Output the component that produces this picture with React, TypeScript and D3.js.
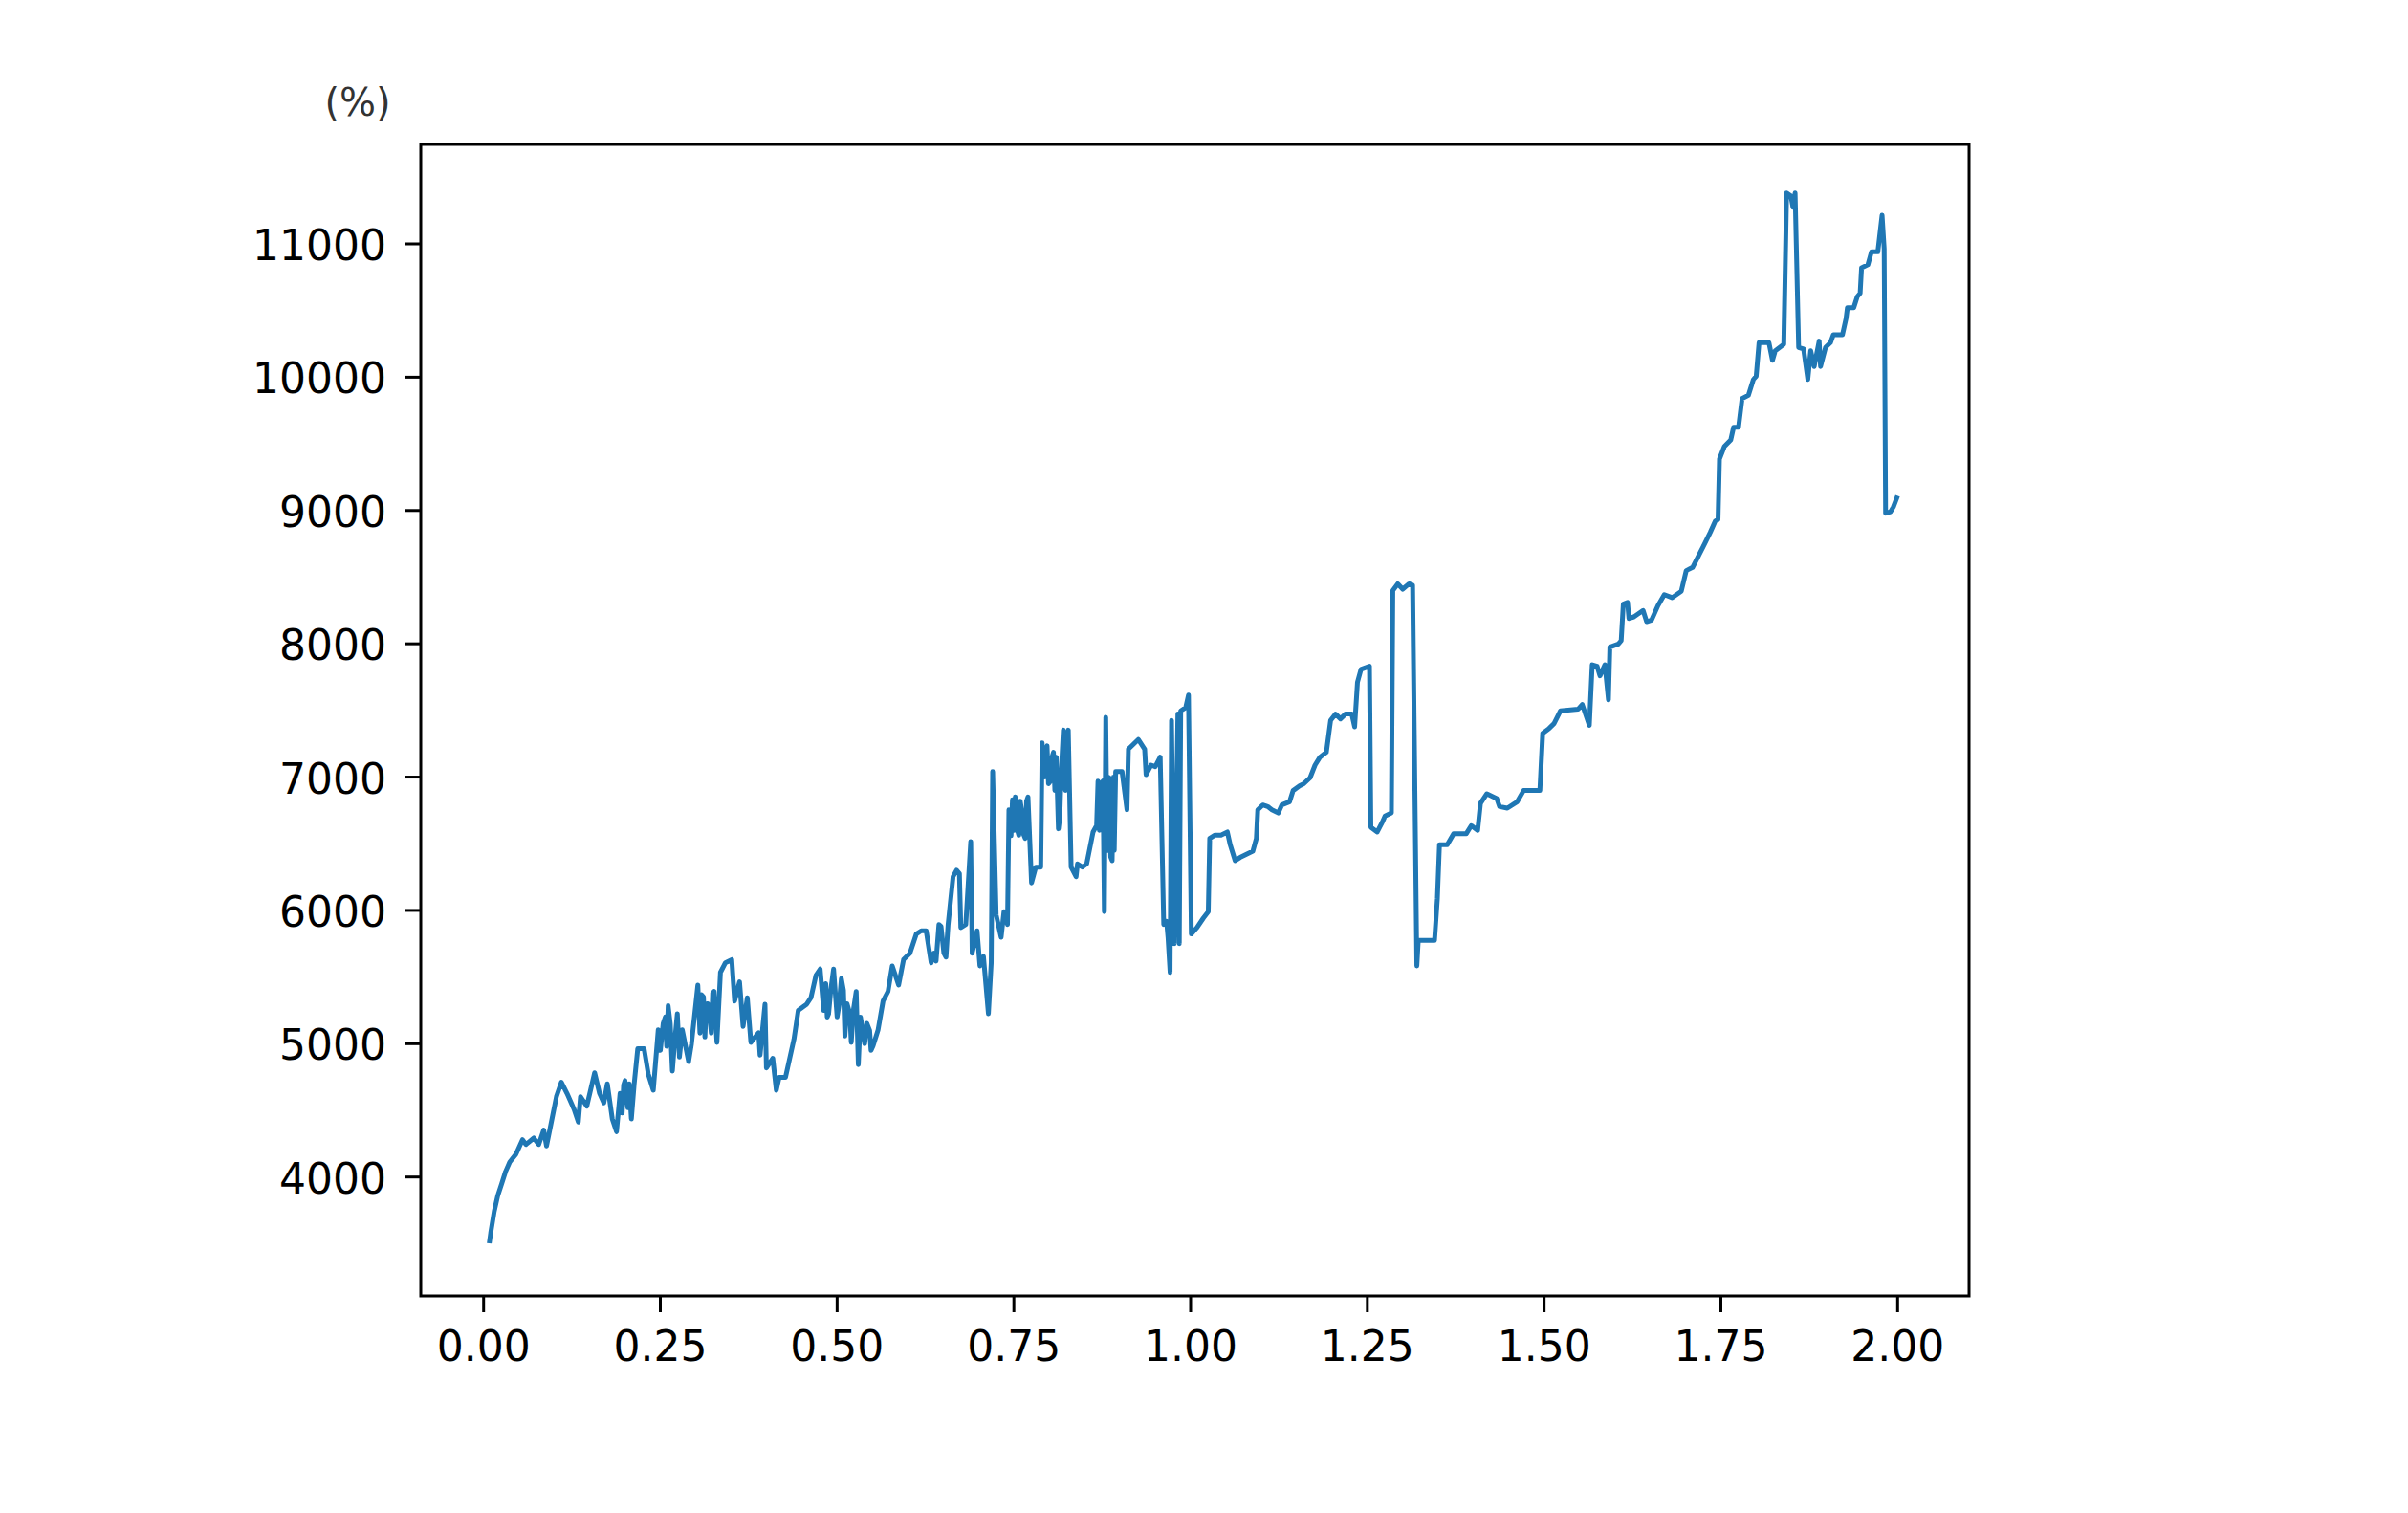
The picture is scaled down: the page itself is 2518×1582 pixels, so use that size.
import React from "react";
import * as d3 from "d3";

// x values (years) and series values (%)
const xVals: number[] = [
  0.008, 0.010, 0.015, 0.020, 0.026, 0.031, 0.037, 0.046, 0.055, 0.060, 0.071, 0.078, 0.085, 0.089, 0.094,
  0.103, 0.110, 0.118, 0.128, 0.134, 0.137, 0.146, 0.157, 0.164, 0.170, 0.175, 0.182, 0.188, 0.193, 0.196,
  0.198, 0.200, 0.204, 0.206, 0.209, 0.213, 0.218, 0.227, 0.233, 0.240, 0.247, 0.250, 0.254, 0.257, 0.259,
  0.261, 0.264, 0.267, 0.270, 0.274, 0.277, 0.281, 0.290, 0.294, 0.303, 0.306, 0.308, 0.311, 0.313, 0.315,
  0.317, 0.319, 0.322, 0.324, 0.326, 0.330, 0.335, 0.342, 0.351, 0.355, 0.362, 0.367, 0.373, 0.378, 0.389,
  0.391, 0.398, 0.400, 0.409, 0.414, 0.418, 0.427, 0.439, 0.445, 0.457, 0.463, 0.470, 0.476, 0.481, 0.484,
  0.486, 0.488, 0.491, 0.495, 0.500, 0.503, 0.506, 0.509, 0.511, 0.514, 0.518, 0.520, 0.523, 0.527, 0.530,
  0.533, 0.536, 0.539, 0.542, 0.546, 0.548, 0.551, 0.558, 0.565, 0.572, 0.578, 0.587, 0.594, 0.603, 0.612,
  0.619, 0.626, 0.633, 0.637, 0.640, 0.644, 0.647, 0.651, 0.654, 0.657, 0.664, 0.669,
  0.673, 0.675, 0.682, 0.689, 0.691, 0.698, 0.702, 0.707, 0.714, 0.718, 0.720, 0.725, 0.732, 0.736, 0.741,
  0.743, 0.746, 0.748, 0.750, 0.752, 0.754, 0.757, 0.759, 0.761, 0.763, 0.766, 0.768, 0.770, 0.775, 0.781,
  0.788, 0.790, 0.793, 0.795, 0.797, 0.799, 0.802, 0.804, 0.806, 0.808, 0.810, 0.813, 0.815, 0.817, 0.820,
  0.823, 0.825, 0.827, 0.831, 0.838, 0.840, 0.847, 0.853, 0.862, 0.867, 0.869, 0.871, 0.873, 0.876, 0.878,
  0.880, 0.882, 0.883, 0.885, 0.887, 0.889, 0.891, 0.892, 0.894, 0.903, 0.910, 0.912, 0.926, 0.935, 0.937,
  0.944, 0.950, 0.957, 0.962, 0.966, 0.968, 0.971, 0.973, 0.977, 0.982, 0.984, 0.986, 0.993, 0.997, 1.001,
  1.009, 1.018, 1.025, 1.027, 1.034, 1.043, 1.052, 1.056, 1.063, 1.070, 1.079, 1.088, 1.093, 1.095, 1.102,
  1.109, 1.115, 1.124, 1.129, 1.140, 1.145, 1.154, 1.160, 1.169, 1.176, 1.183, 1.192, 1.198, 1.205, 1.212,
  1.219, 1.228, 1.232, 1.236, 1.241, 1.253, 1.255, 1.264, 1.271, 1.275, 1.284, 1.286, 1.293, 1.300, 1.309,
  1.314, 1.320, 1.322, 1.345,
  1.349, 1.352, 1.363, 1.372, 1.390, 1.397, 1.406, 1.410, 1.419, 1.433, 1.437, 1.448, 1.462, 1.471, 1.494,
  1.498, 1.507, 1.514, 1.523, 1.548, 1.554, 1.564, 1.568, 1.575, 1.579, 1.586, 1.591, 1.593, 1.605, 1.609,
  1.612, 1.618, 1.620, 1.627, 1.640, 1.645, 1.652, 1.661, 1.670, 1.681, 1.694, 1.701, 1.710, 1.717, 1.726,
  1.735, 1.742, 1.746, 1.748, 1.755, 1.764, 1.768, 1.775, 1.780, 1.789, 1.796, 1.800, 1.804, 1.818, 1.823,
  1.827, 1.839, 1.843, 1.849, 1.852, 1.855, 1.860, 1.867, 1.873, 1.877, 1.882, 1.889, 1.891, 1.898, 1.905,
  1.909, 1.922, 1.927, 1.929, 1.938, 1.943, 1.947, 1.949, 1.958, 1.963, 1.972, 1.978, 1.981, 1.983, 1.990,
  1.994, 2.000,
];

const pctVals: number[] = [
  3503, 3580, 3742, 3860, 3957, 4040, 4113, 4173, 4280, 4244, 4292, 4244, 4352, 4233, 4364,
  4603, 4711, 4627, 4507, 4412, 4603, 4531, 4782, 4627, 4556, 4699, 4436, 4340, 4627, 4480,
  4690, 4723, 4520, 4700, 4436, 4699, 4962, 4962, 4771, 4651, 5105, 4950, 5153, 5200, 4980,
  5285, 5150, 4795, 5000, 5225, 4900, 5105, 4866, 4998, 5440, 5080, 5368, 5350, 5050, 5297,
  5300, 5249, 5080, 5380, 5392, 5010, 5535, 5607, 5631, 5320, 5464, 5130, 5345, 5010, 5082,
  4914, 5297, 4818, 4890, 4651, 4747, 4747, 5034, 5249, 5297, 5345, 5512, 5560, 5249, 5450,
  5200, 5225, 5400, 5560, 5201, 5300, 5488, 5400, 5058, 5300, 5225, 5010, 5250, 5392, 4843,
  5200, 5105, 5000, 5153, 5100, 4950, 4986, 5105, 5320, 5392, 5584, 5440, 5631, 5679, 5823,
  5847, 5847, 5607, 5679, 5620, 5894, 5880, 5679, 5650, 5894, 6253, 6301,
  6277, 5871, 5894, 6516, 5679, 5847, 5584, 5655, 5225, 5607, 7042, 5966, 5799, 5990, 5894,
  6755, 6560, 6830, 6600, 6851, 6620, 6564, 6820, 6755, 6580, 6540, 6820, 6851, 6206, 6325,
  6325, 7257, 7000, 7200, 7234, 6950, 6970, 7150, 7186, 6900, 7150, 6612, 6700, 7042, 7353,
  6900, 7300, 7353, 6325, 6253, 6349, 6325, 6349, 6588, 6636, 6970, 6600, 6950, 6970, 5990,
  7449, 6450, 7000, 6995, 6400, 6373, 7000, 6450, 7042, 7042, 6755, 7210, 7282, 7210, 7018,
  7090, 7078, 7150, 5894, 5918, 5799, 5535, 7425, 5751, 7473, 5751, 7497, 7521, 7616, 5823,
  5871, 5942, 5990, 6540, 6564, 6564, 6588, 6492, 6373, 6397, 6421, 6444, 6540, 6755, 6791,
  6779, 6755, 6731, 6791, 6815, 6899, 6934, 6950, 6995, 7090, 7150, 7186, 7425, 7473, 7437,
  7473, 7473, 7377, 7712, 7808, 7832, 6624, 6588, 6660, 6708, 6731, 8400, 8450, 8410, 8450,
  8440, 5584, 5775, 5775,
  6086, 6493, 6493, 6576, 6576, 6636, 6600, 6803, 6875, 6839, 6779, 6767, 6815, 6899, 6899,
  7329, 7365, 7401, 7497, 7509, 7544, 7389, 7843, 7831, 7760, 7843, 7580, 7975, 7999, 8023,
  8298, 8310, 8190, 8202, 8250, 8166, 8178, 8286, 8369, 8346, 8394, 8549, 8573, 8645, 8740,
  8836, 8920, 8932, 9386, 9481, 9529, 9625, 9625, 9840, 9864, 9983, 10008, 10259, 10259, 10127,
  10199, 10247, 11382, 11360, 11275, 11382, 10223, 10211, 9983, 10199, 10080, 10271, 10080, 10223, 10259,
  10318, 10318, 10438, 10522, 10522, 10605, 10629, 10821, 10844, 10940, 10940, 11215, 10964, 8979, 8991,
  9027, 9111,
];

const xTicks: number[] = [0, 0.25, 0.5, 0.75, 1.0, 1.25, 1.5, 1.75, 2.0];
const yTicks: number[] = [4000, 5000, 6000, 7000, 8000, 9000, 10000, 11000];
const yUnitLabel = "(%)";

const W = 2518;
const H = 1582;
const frame = { left: 440, right: 2059, top: 151, bottom: 1355 };
const FONT = "'DejaVu Sans', sans-serif";

export default function App() {
  const x = d3.scaleLinear().domain([0, 2]).range([505.7, 1984.3]);
  const y = d3.scaleLinear().domain([4000, 11000]).range([1230.7, 255]);
  const pts: [number, number][] = xVals.map((v, i) => [v, pctVals[i]]);
  const line = d3
    .line<[number, number]>()
    .x((d) => x(d[0]))
    .y((d) => y(d[1]));

  return (
    <div style={{ position: "absolute", left: 0, top: 0, background: "#fff" }}>
      <svg width={W} height={H} viewBox={`0 0 ${W} ${H}`} style={{ display: "block" }}>
        <rect x={0} y={0} width={W} height={H} fill="#fff" />
        <path
          d={line(pts) || ""}
          fill="none"
          stroke="#1f77b4"
          strokeWidth={5}
          strokeLinejoin="round"
          strokeLinecap="butt"
        />
        <rect
          x={frame.left}
          y={frame.top}
          width={frame.right - frame.left}
          height={frame.bottom - frame.top}
          fill="none"
          stroke="#000"
          strokeWidth={3}
        />
        {yTicks.map((t) => (
          <g key={"y" + t}>
            <line x1={frame.left - 17} x2={frame.left} y1={y(t)} y2={y(t)} stroke="#000" strokeWidth={3} />
            <text
              x={frame.left - 36}
              y={y(t) + 17}
              textAnchor="end"
              fontFamily={FONT}
              fontSize={44}
              fill="#000"
            >
              {t}
            </text>
          </g>
        ))}
        {xTicks.map((t) => (
          <g key={"x" + t}>
            <line x1={x(t)} x2={x(t)} y1={frame.bottom} y2={frame.bottom + 17} stroke="#000" strokeWidth={3} />
            <text
              x={x(t)}
              y={1423}
              textAnchor="middle"
              fontFamily={FONT}
              fontSize={44}
              fill="#000"
            >
              {t.toFixed(2)}
            </text>
          </g>
        ))}
        <text x={374} y={121} textAnchor="middle" fontFamily={FONT} fontSize={40} fill="#333">
          {yUnitLabel}
        </text>
      </svg>
    </div>
  );
}
